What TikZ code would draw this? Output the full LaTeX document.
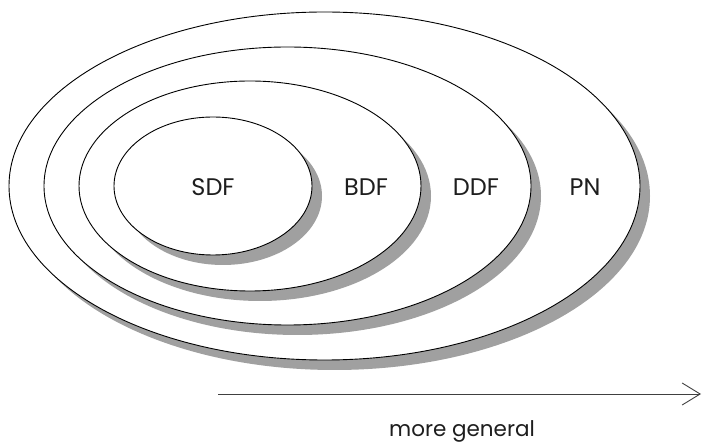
\documentclass[tikz,border=0pt]{standalone}
\usepackage{fontspec}
\setmainfont{Poppins}
\usetikzlibrary{shapes.geometric,shadows,arrows.meta}
\definecolor{shadowgray}{HTML}{A0A0A0}
\definecolor{inkgray}{HTML}{1E1E1E}
\tikzset{
  classbox/.style={ellipse, draw=black, line width=0.9pt, fill=white,
    inner sep=0pt, outer sep=0pt,
    drop shadow={shadow xshift=10pt, shadow yshift=-10pt,
      fill=shadowgray, opacity=1}},
  classname/.style={font=\fontsize{24}{28}\selectfont, text=inkgray},
  axisname/.style={font=\fontsize{21.5}{25}\selectfont, text=inkgray},
  axisline/.style={line width=0.9pt, draw=black!75,
    -{Straight Barb[length=18pt, width=22pt, line width=0.9pt]}}
}
\begin{document}
\begin{tikzpicture}[x=1pt, y=-1pt]
  \useasboundingbox (0,0) rectangle (702,443);
  % nested model classes, outermost first so inner ones sit on top
  \node[classbox, minimum width=631pt, minimum height=348pt] (pn)  at (324.5,186) {};
  \node[classbox, minimum width=487pt, minimum height=278pt] (ddf) at (287.5,186) {};
  \node[classbox, minimum width=342pt, minimum height=210pt] (bdf) at (250,186) {};
  \node[classbox, minimum width=198pt, minimum height=138pt] (sdf) at (213,186) {};
  % class names
  \node[classname] (sdflabel) at (213,187.5) {SDF};
  \node[classname] (bdflabel) at (366,187.5) {BDF};
  \node[classname] (ddflabel) at (476,187.5) {DDF};
  \node[classname] (pnlabel)  at (585,187.5) {PN};
  % generality axis
  \coordinate (axisstart) at (218,394);
  \coordinate (axisend) at (701,394);
  \draw[axisline] (axisstart) -- (axisend);
  \node[axisname, anchor=base] (axislabel) at (462,436.5) {more general};
\end{tikzpicture}
\end{document}
